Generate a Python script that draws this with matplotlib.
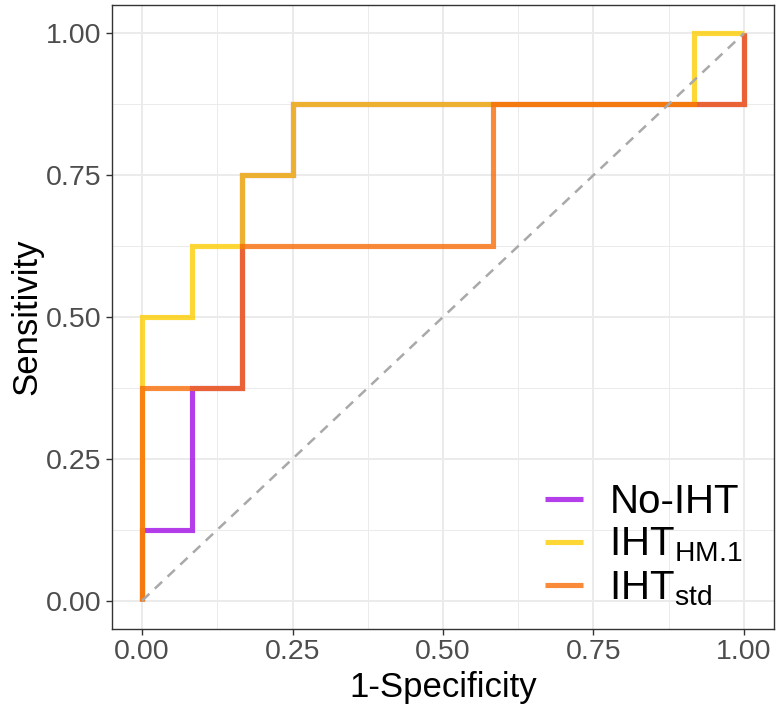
import matplotlib
matplotlib.use("Agg")
import matplotlib.pyplot as plt
from matplotlib.ticker import MultipleLocator

plt.rcParams['font.family'] = ['Liberation Sans', 'DejaVu Sans']
plt.rcParams['mathtext.fontset'] = 'custom'
plt.rcParams['mathtext.rm'] = 'Liberation Sans'
plt.rcParams['mathtext.it'] = 'Liberation Sans'
plt.rcParams['mathtext.bf'] = 'Liberation Sans'

# ---- data (ROC step vertices) ----
series_names = ["No-IHT", "IHT$_{\\mathrm{HM.\\!1}}$", "IHT$_{\\mathrm{std}}$"]
series_colors = ["#A10EE5", "#FCCE02", "#F76D09"]

fpr_no_iht = [0, 0, 0.0833, 0.0833, 0.1667, 0.1667, 0.25, 0.25, 1, 1]
tpr_no_iht = [0, 0.125, 0.125, 0.375, 0.375, 0.75, 0.75, 0.875, 0.875, 1]

fpr_hm1 = [0, 0, 0.0833, 0.0833, 0.1667, 0.1667, 0.25, 0.25, 0.9167, 0.9167, 1]
tpr_hm1 = [0, 0.5, 0.5, 0.625, 0.625, 0.75, 0.75, 0.875, 0.875, 1, 1]

fpr_std = [0, 0, 0.1667, 0.1667, 0.5833, 0.5833, 1, 1]
tpr_std = [0, 0.375, 0.375, 0.625, 0.625, 0.875, 0.875, 1]

ticks = [0.0, 0.25, 0.5, 0.75, 1.0]
tick_labels = ["0.00", "0.25", "0.50", "0.75", "1.00"]

W, H = 780, 712
fig = plt.figure(figsize=(W / 100, H / 100), dpi=100)
ax = fig.add_axes([112 / W, 1 - 629 / H, (774 - 112) / W, (629 - 5) / H])

ax.set_xlim(-0.05, 1.05)
ax.set_ylim(-0.05, 1.05)

# grid
ax.set_xticks(ticks)
ax.set_yticks(ticks)
ax.xaxis.set_minor_locator(MultipleLocator(0.125))
ax.yaxis.set_minor_locator(MultipleLocator(0.125))
ax.grid(True, which='major', color='#EBEBEB', linewidth=1.4, zorder=0)
ax.grid(True, which='minor', color='#EBEBEB', linewidth=0.7, zorder=0)
ax.set_axisbelow(True)
ax.tick_params(which='minor', length=0)
ax.tick_params(which='major', length=4.5, width=1.0, color='#333333',
               labelsize=20.5, labelcolor='#4D4D4D', pad=3)
ax.set_xticklabels(tick_labels)
ax.set_yticklabels(tick_labels)

for s in ax.spines.values():
    s.set_color('#333333')
    s.set_linewidth(1.0)

xs = [fpr_no_iht, fpr_hm1, fpr_std]
ys = [tpr_no_iht, tpr_hm1, tpr_std]
for x, y, c, n in zip(xs, ys, series_colors, series_names):
    ax.plot(x, y, color=c, alpha=0.8, linewidth=3.7, label=n,
            solid_joinstyle='miter', solid_capstyle='butt', zorder=3)

ax.plot([0, 1], [0, 1], linestyle=(0, (4, 3)), color='#A9A9A9',
        linewidth=1.8, zorder=4)

ax.set_xlabel("1-Specificity", fontsize=25, color='black', labelpad=4)
ax.set_ylabel("Sensitivity", fontsize=25, color='black', labelpad=2)

leg = ax.legend(loc='lower left', bbox_to_anchor=((545 - 112) / 662, 0.034),
                frameon=False, fontsize=29, handlelength=0.95,
                handletextpad=0.65, labelspacing=0.12, borderaxespad=0.0,
                borderpad=0.0)

fig.savefig("out.png", dpi=100)
